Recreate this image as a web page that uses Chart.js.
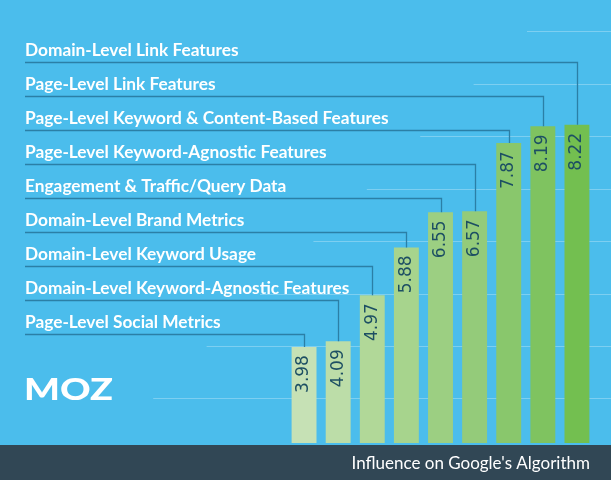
<!DOCTYPE html>
<html>
<head>
<meta charset="utf-8">
<script src="https://cdn.jsdelivr.net/npm/chart.js@4"></script>
<style>
html, body { margin: 0; padding: 0; background: #4bbdec; }
#wrap { width: 611px; height: 480px; position: relative; }
</style>
</head>
<body>
<div id="wrap"><canvas id="chart"></canvas></div>
<script>
// categories, bottom-left bar first
var factors = [
    "Page-Level Social Metrics",
    "Domain-Level Keyword-Agnostic Features",
    "Domain-Level Keyword Usage",
    "Domain-Level Brand Metrics",
    "Engagement & Traffic/Query Data",
    "Page-Level Keyword-Agnostic Features",
    "Page-Level Keyword & Content-Based Features",
    "Page-Level Link Features",
    "Domain-Level Link Features"
];
var influence = [3.98, 4.09, 4.97, 5.88, 6.55, 6.57, 7.87, 8.19, 8.22];
var barColors = ["#c6e1b5", "#bcdda8", "#b1d898", "#a7d48d", "#9ccf82", "#94cb7a", "#89c76c", "#7fc360", "#73bf50"];
var gridValues = [3, 4, 5, 6, 7, 8, 9, 10];
var footerText = "Influence on Google's Algorithm";

var decor = {
    id: 'decor',
    beforeDraw: function(chart) {
        var ctx = chart.ctx, y = chart.scales.y;
        ctx.save();
        ctx.fillStyle = '#4bbdec';
        ctx.fillRect(0, 0, chart.width, chart.height);
        // faint staggered grid lines
        ctx.strokeStyle = 'rgba(255,255,255,0.28)';
        ctx.lineWidth = 1.2;
        gridValues.forEach(function(v) {
            var py = Math.round(y.getPixelForValue(v)) + 0.5;
            var sx = 527 - (10 - v) * 53.4;
            ctx.beginPath(); ctx.moveTo(sx, py); ctx.lineTo(chart.width, py); ctx.stroke();
        });
        // footer band
        ctx.fillStyle = '#314755';
        ctx.fillRect(0, 445, chart.width, chart.height - 445);
        ctx.fillStyle = '#ffffff';
        ctx.font = '17px Lato';
        ctx.textAlign = 'right';
        ctx.textBaseline = 'middle';
        ctx.fillText(footerText, 590, 464);
        // logo
        ctx.save();
        ctx.translate(24, 400);
        ctx.scale(1.22, 1);
        ctx.font = '900 31px Lato';
        ctx.textAlign = 'left';
        ctx.textBaseline = 'alphabetic';
        ctx.fillText('MOZ', 0, 0);
        ctx.restore();
        ctx.restore();
    },
    afterDatasetsDraw: function(chart) {
        var ctx = chart.ctx, meta = chart.getDatasetMeta(0);
        ctx.save();
        meta.data.forEach(function(bar, i) {
            var rank = factors.length - 1 - i;
            var ly = 62 + rank * 34;
            var bx = Math.round(bar.x) + 0.5;
            // leader line
            ctx.strokeStyle = '#2b7fa6';
            ctx.lineWidth = 1.3;
            ctx.beginPath();
            ctx.moveTo(25, ly + 0.5); ctx.lineTo(bx, ly + 0.5); ctx.lineTo(bx, bar.y);
            ctx.stroke();
            // label
            ctx.fillStyle = '#ffffff';
            ctx.font = 'bold 17.3px Lato';
            ctx.textAlign = 'left';
            ctx.textBaseline = 'alphabetic';
            ctx.fillText(factors[i], 25, ly - 6);
            // value
            ctx.save();
            ctx.translate(bar.x, bar.y + 8);
            ctx.rotate(-Math.PI / 2);
            ctx.fillStyle = '#1d4f63';
            ctx.font = '17px "DejaVu Sans"';
            ctx.textAlign = 'right';
            ctx.textBaseline = 'middle';
            ctx.fillText(influence[i].toFixed(2), 0, 0);
            ctx.restore();
        });
        ctx.restore();
    }
};

new Chart(document.getElementById('chart'), {
    type: 'bar',
    data: {
        labels: factors,
        datasets: [{
            data: influence,
            backgroundColor: barColors,
            borderWidth: 0,
            barPercentage: 0.73,
            categoryPercentage: 1
        }]
    },
    options: {
        responsive: true,
        maintainAspectRatio: false,
        animation: false,
        layout: { padding: { left: 287, right: 17, top: 0, bottom: 37 } },
        plugins: { legend: { display: false }, tooltip: { enabled: false } },
        scales: {
            x: { display: false },
            y: { display: false, min: 2.15, max: 10.6 }
        }
    },
    plugins: [decor]
});
</script>
</body>
</html>
